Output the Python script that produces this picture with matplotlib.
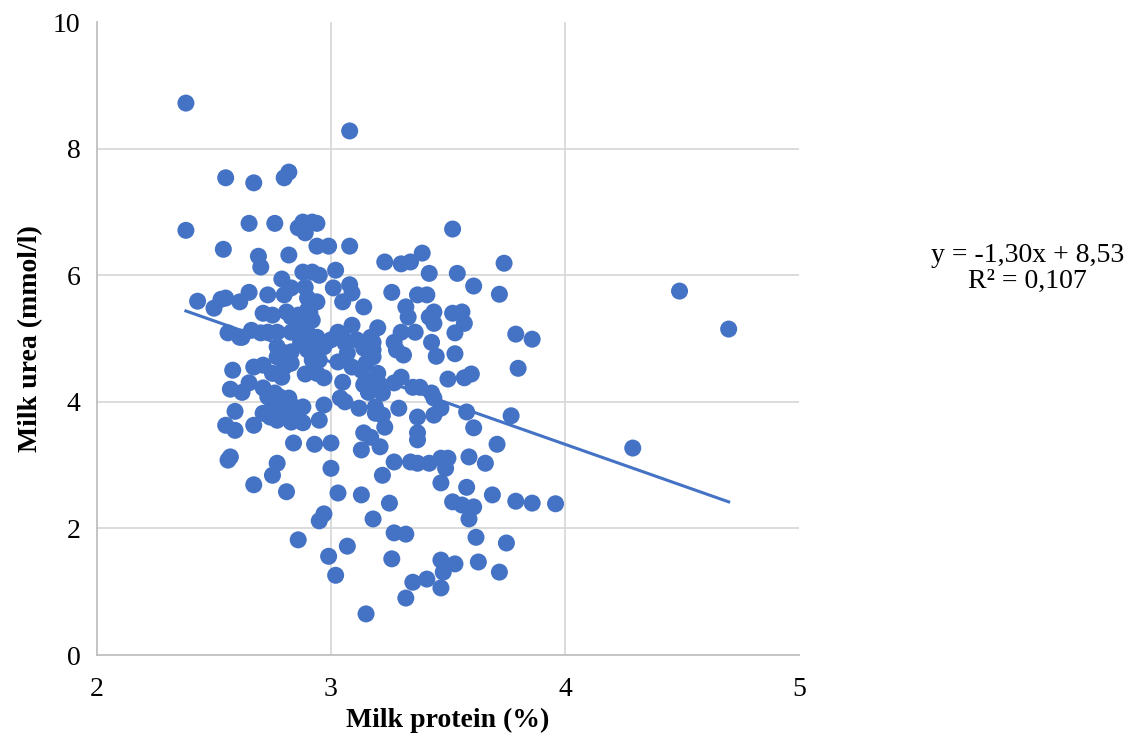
import matplotlib.pyplot as plt
import numpy as np

# Milk protein (%) and milk urea (mmol/l) per sample
protein = [
    2.38, 3.08, 2.38, 2.82, 2.80, 2.55, 2.67, 2.65, 2.76, 2.86, 2.88, 2.92, 2.94, 2.89,
    3.08, 2.99, 2.94, 2.54, 2.69, 2.70, 2.82, 2.88, 2.92, 2.95, 3.02, 2.79, 3.23, 3.30,
    3.34, 3.39, 3.52, 3.74, 3.42, 3.54, 3.72, 3.61, 3.26, 3.37, 3.41, 3.32, 3.44, 3.52,
    3.56, 3.33, 3.42, 3.57, 3.44, 3.53, 3.79, 3.86, 3.36, 3.30, 3.27, 3.28, 3.31, 3.43,
    3.45, 3.53, 3.80, 3.50, 3.57, 3.60, 3.20, 3.30, 3.35, 3.38, 3.43, 3.44, 3.47, 3.44,
    3.37, 3.29, 3.58, 3.77, 3.61, 3.37, 3.37, 3.71, 3.23, 3.19, 3.21, 3.59, 3.66, 3.50,
    3.47, 3.42, 3.37, 3.34, 3.27, 3.22, 3.47, 3.58, 3.69, 3.79, 3.86, 3.96, 3.52, 3.56,
    3.61, 3.59, 3.13, 3.25, 3.18, 3.27, 3.32, 3.62, 3.75, 3.26, 3.47, 3.53, 3.48, 3.63,
    3.72, 3.35, 3.41, 3.47, 3.32, 3.15, 2.67, 2.75, 2.77, 2.56, 2.81, 3.00, 3.03, 2.97,
    2.95, 2.86, 3.07, 2.99, 3.02, 4.29, 4.49, 4.70, 2.43, 2.50, 2.53, 2.55, 2.61, 2.65,
    2.73, 2.80, 2.83, 2.89, 2.90, 2.94, 3.01, 3.08, 3.09, 3.05, 3.14, 2.71, 2.75, 2.81,
    2.86, 2.90, 2.56, 2.61, 2.66, 2.70, 2.73, 2.77, 2.88, 2.92, 2.90, 2.94, 2.97, 3.03,
    3.09, 3.06, 3.11, 3.14, 3.07, 2.77, 2.80, 2.79, 2.58, 2.67, 2.71, 2.89, 2.94, 2.97,
    3.05, 3.09, 3.13, 3.15, 2.57, 2.62, 2.65, 2.71, 2.73, 2.76, 2.78, 2.82, 2.75, 2.80,
    2.83, 2.85, 2.88, 2.71, 2.74, 2.77, 2.81, 2.86, 2.88, 2.59, 2.97, 3.04, 3.06, 3.12,
    2.95, 2.55, 2.59, 2.67, 2.77, 2.83, 2.84, 2.93, 3.00, 2.57, 3.14, 3.13, 3.17, 3.18,
    3.15, 3.20, 3.21, 3.14, 3.27, 3.19, 3.17, 2.83, 2.91, 2.62, 2.83, 2.88, 3.00, 3.05,
    2.96, 2.77, 2.80, 2.83, 2.87, 2.90, 2.92, 2.92, 2.95, 3.03, 2.83, 2.75, 3.18, 3.18,
    3.21, 3.22, 3.16, 3.22, 3.49,
]
urea = [
    8.72, 8.28, 6.71, 7.63, 7.54, 7.54, 7.46, 6.82, 6.82, 6.75, 6.84, 6.84, 6.82, 6.67,
    6.46, 6.46, 6.46, 6.41, 6.30, 6.13, 6.32, 6.05, 6.05, 6.00, 6.08, 5.94, 6.21, 6.18,
    6.21, 6.35, 6.73, 6.19, 6.03, 6.03, 5.70, 5.83, 5.73, 5.69, 5.69, 5.50, 5.42, 5.40,
    5.42, 5.34, 5.34, 5.24, 5.24, 5.09, 5.07, 4.99, 5.10, 5.10, 4.94, 4.82, 4.74, 4.94,
    4.72, 4.76, 4.53, 4.36, 4.38, 4.44, 5.17, 4.39, 4.23, 4.23, 4.14, 4.06, 3.90, 3.79,
    3.76, 3.90, 3.84, 3.78, 3.59, 3.51, 3.40, 3.33, 3.60, 3.82, 3.29, 3.13, 3.03, 3.11,
    3.11, 3.03, 3.03, 3.05, 3.05, 2.84, 2.72, 2.65, 2.53, 2.43, 2.40, 2.39, 2.42, 2.37,
    2.34, 2.15, 2.53, 2.40, 2.15, 1.93, 1.91, 1.86, 1.77, 1.52, 1.50, 1.44, 1.31, 1.47,
    1.31, 1.15, 1.20, 1.06, 0.90, 0.65, 2.69, 2.84, 3.03, 3.08, 2.58, 2.95, 2.56, 2.23,
    2.12, 1.82, 1.72, 1.56, 1.26, 3.27, 5.75, 5.15, 5.59, 5.48, 5.62, 5.64, 5.58, 5.73,
    5.69, 5.69, 5.80, 5.81, 5.64, 5.58, 5.80, 5.85, 5.72, 5.58, 5.50, 5.40, 5.37, 5.42,
    5.37, 5.45, 5.09, 5.02, 5.13, 5.09, 5.10, 5.10, 5.21, 5.29, 5.09, 5.02, 4.87, 5.10,
    5.21, 4.93, 4.98, 4.85, 4.77, 4.71, 4.55, 4.39, 4.50, 4.55, 4.58, 4.44, 4.45, 4.38,
    4.31, 4.55, 4.50, 4.34, 4.20, 4.15, 4.30, 4.22, 4.08, 4.14, 4.08, 4.06, 3.92, 3.98,
    3.95, 3.84, 3.92, 3.82, 3.76, 3.74, 3.82, 3.76, 3.67, 3.85, 3.95, 4.06, 4.00, 3.90,
    3.71, 3.63, 3.55, 3.63, 3.71, 3.68, 3.35, 3.33, 3.35, 3.13, 3.51, 3.24, 5.02, 4.82,
    4.61, 4.45, 4.27, 4.27, 4.30, 3.92, 3.44, 5.34, 5.40, 5.02, 5.10, 5.02, 4.98, 5.01,
    4.90, 4.87, 4.74, 4.79, 4.93, 4.82, 4.85, 4.66, 4.66, 4.63, 4.61, 4.45, 4.94, 4.71,
    4.19, 3.79, 4.15, 4.14, 2.95,
]

# Linear trend line
slope, intercept = -1.30, 8.53
r2_label = "R² = 0,107"

blue = "#4472C4"

plt.rcParams["font.family"] = ["Liberation Serif", "DejaVu Serif"]

fig = plt.figure(figsize=(11.32, 7.36), dpi=100)
ax = fig.add_axes([0.0857, 0.110, 0.620, 0.860])

ax.scatter(protein, urea, s=150, color=blue, edgecolors="none", zorder=3)

xs = np.array([min(protein), max(protein)])
ax.plot(xs, slope * xs + intercept, color=blue, lw=2.2, zorder=4)

ax.set_xlim(2, 5)
ax.set_ylim(0, 10)
ax.set_xticks([2, 3, 4, 5])
ax.set_yticks([0, 2, 4, 6, 8, 10])

# gridlines only at interior ticks
for gx in [3, 4]:
    ax.axvline(gx, color="#d9d9d9", lw=1.3, zorder=1)
for gy in [2, 4, 6, 8]:
    ax.axhline(gy, color="#d9d9d9", lw=1.3, zorder=1)

for side in ["top", "right"]:
    ax.spines[side].set_visible(False)
for side in ["left", "bottom"]:
    ax.spines[side].set_color("#bfbfbf")
    ax.spines[side].set_linewidth(1.3)

ax.tick_params(length=0, labelsize=20, colors="#000000")
ax.tick_params(axis="x", pad=16)
ax.tick_params(axis="y", pad=12)

ax.set_xlabel("Milk protein (%)", fontsize=20, fontweight="bold", labelpad=4)
ax.set_ylabel("Milk urea (mmol/l)", fontsize=20, fontweight="bold")
ax.yaxis.set_label_coords(-0.077, 0.5)

fig.text(0.908, 0.653, f"y = {slope:.2f}x + {intercept:.2f}".replace(".", ","),
         ha="center", va="center", fontsize=20)
fig.text(0.908, 0.617, r2_label, ha="center", va="center", fontsize=20)

fig.savefig("out.png", dpi=100)
